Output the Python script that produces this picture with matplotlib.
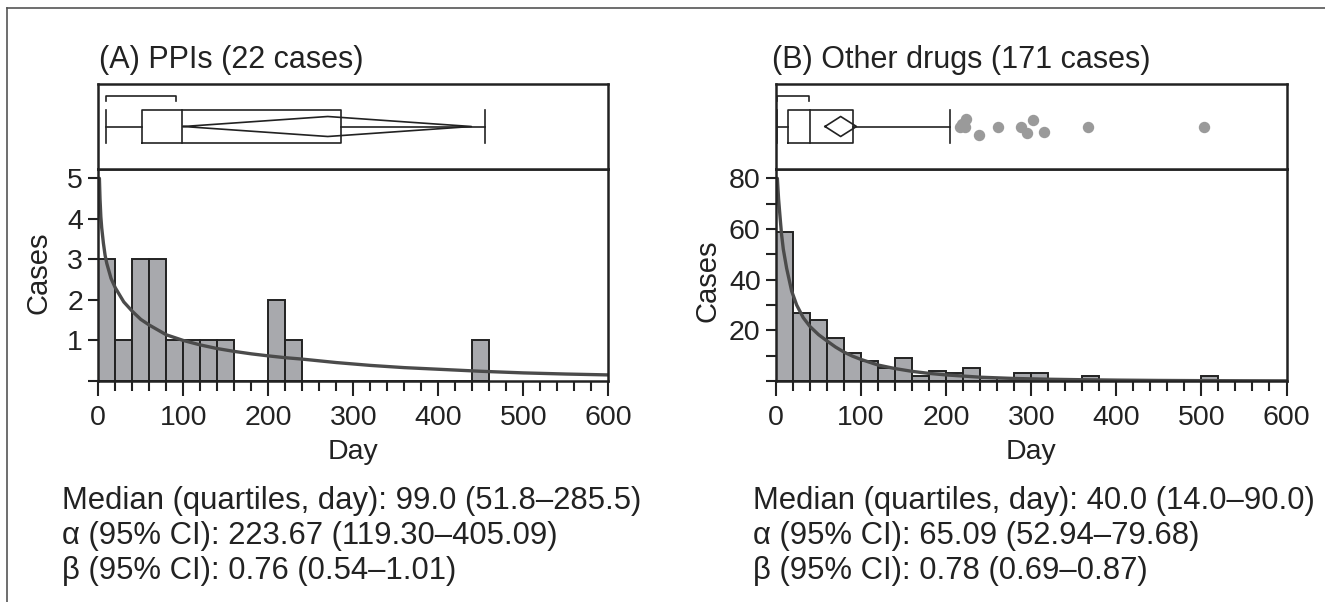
import matplotlib
matplotlib.use("Agg")
import matplotlib.pyplot as plt
from matplotlib.lines import Line2D
from matplotlib.ticker import FixedLocator, FixedFormatter, MultipleLocator

plt.rcParams['font.family'] = ['Liberation Sans', 'DejaVu Sans']

# ---------------- data ----------------
bin_width = 20
ppi_counts = [3, 1, 3, 3, 1, 1, 1, 1, 0, 0, 2, 1, 0, 0, 0, 0, 0, 0, 0, 0, 0, 0, 1]
other_counts = [59, 27, 24, 17, 11, 8, 5, 9, 2, 4, 3, 5, 1, 1, 3, 3, 0, 0, 2, 0,
                0, 0, 0, 0, 0, 2]

ppi_curve_day = [1.3, 2, 3, 4, 6, 8, 10, 15, 20, 30, 40, 50, 60, 80, 100, 120,
                 140, 160, 180, 200, 220, 240, 280, 320, 360, 400, 450, 500, 550, 600]
ppi_curve_val = [5.0, 4.5, 4.05, 3.78, 3.4, 3.1, 2.9, 2.53, 2.3, 1.95, 1.72, 1.52,
                 1.38, 1.14, 1.0, 0.89, 0.80, 0.73, 0.67, 0.62, 0.575, 0.54, 0.455,
                 0.385, 0.33, 0.29, 0.24, 0.2, 0.172, 0.15]
other_curve_day = [1.6, 3, 4.7, 6.5, 8.6, 12.5, 18.4, 24.3, 32, 40, 50, 60, 70, 80,
                   90, 100, 120, 140, 160, 180, 200, 240, 280, 320, 360, 400, 450,
                   500, 550, 600]
other_curve_val = [80, 72, 65, 58, 52, 44.5, 35.5, 30, 25, 21.5, 18.3, 15.8, 13.4,
                   11.4, 9.8, 8.5, 6.3, 4.9, 3.8, 3.0, 2.4, 1.5, 1.0, 0.7, 0.5, 0.35,
                   0.22, 0.14, 0.09, 0.06]

ppi_whisker = [9, 455]
ppi_quartiles = [51.8, 99.0, 285.5]
ppi_mean_ci = [100, 270, 439]
ppi_short_half = [9, 92]
ppi_outliers = []
ppi_outlier_dy = []

other_whisker = [1, 204]
other_quartiles = [14.0, 40.0, 90.0]
other_mean_ci = [57.6, 76, 94.6]
other_short_half = [1, 39]
other_outliers = [215.8, 219, 222.7, 223.8, 238.2, 261.2, 287.6, 294.6, 301.5,
                  314.6, 366.9, 503.6]
other_outlier_dy = [0, 3, 0, 7.5, -8.5, 0, 0, -6.3, 6.7, -5.7, 0, 0]

titles = ["(A) PPIs (22 cases)", "(B) Other drugs (171 cases)"]
stats = [["Median (quartiles, day): 99.0 (51.8\u2013285.5)",
          "\u03b1 (95% CI): 223.67 (119.30\u2013405.09)",
          "\u03b2 (95% CI): 0.76 (0.54\u20131.01)"],
         ["Median (quartiles, day): 40.0 (14.0\u201390.0)",
          "\u03b1 (95% CI): 65.09 (52.94\u201379.68)",
          "\u03b2 (95% CI): 0.78 (0.69\u20130.87)"]]
x_ticks = [0, 100, 200, 300, 400, 500, 600]
ppi_yticks = [0, 1, 2, 3, 4, 5]
ppi_ylabels = ["", "1", "2", "3", "4", "5"]
other_yticks = [0, 20, 40, 60, 80]
other_ylabels = ["", "20", "40", "60", "80"]
other_yminor = [10, 30, 50, 70]

# ---------------- figure ----------------
W, H = 1325, 602
fig = plt.figure(figsize=(W / 100, H / 100), dpi=100)

DARK = '#222222'
BAR = '#a8a9ad'
CURVE = '#4b4b4b'
SPINE_LW = 1.8


def fx(px):
    return px / W


def fy(py):
    return 1 - py / H


panels = [
    dict(x0=98.3, x1=608.2, counts=ppi_counts, cd=ppi_curve_day, cv=ppi_curve_val,
         ytop=5.23, yt=ppi_yticks, yl=ppi_ylabels, ymin=None,
         wh=ppi_whisker, q=ppi_quartiles, mci=ppi_mean_ci, sh=ppi_short_half,
         out=ppi_outliers, outdy=ppi_outlier_dy, title=titles[0], tx=99,
         stats=stats[0], sx=62, cases=(38.8, 273), day_x=353),
    dict(x0=776, x1=1286.5, counts=other_counts, cd=other_curve_day, cv=other_curve_val,
         ytop=83.7, yt=other_yticks, yl=other_ylabels, ymin=other_yminor,
         wh=other_whisker, q=other_quartiles, mci=other_mean_ci, sh=other_short_half,
         out=other_outliers, outdy=other_outlier_dy, title=titles[1], tx=771.5,
         stats=stats[1], sx=753, cases=(707.7, 281), day_x=1031),
]

for p in panels:
    left = fx(p['x0'])
    width = fx(p['x1']) - fx(p['x0'])
    # histogram axes
    ah = fig.add_axes([left, fy(381), width, (381 - 169) / H])
    edges = [i * bin_width for i in range(len(p['counts']))]
    ah.bar(edges, p['counts'], width=bin_width, align='edge', color=BAR,
           edgecolor=DARK, linewidth=1.4, zorder=2)
    ah.plot(p['cd'], p['cv'], color=CURVE, lw=2.4, zorder=3,
            solid_capstyle='round', solid_joinstyle='round')
    ah.set_xlim(0, 600)
    ah.set_ylim(0, p['ytop'])
    for s in ah.spines.values():
        s.set_linewidth(SPINE_LW)
        s.set_color(DARK)
        s.set_zorder(4)
    ah.xaxis.set_major_locator(FixedLocator(x_ticks))
    ah.xaxis.set_minor_locator(MultipleLocator(20))
    ah.yaxis.set_major_locator(FixedLocator(p['yt']))
    ah.yaxis.set_major_formatter(FixedFormatter(p['yl']))
    if p['ymin'] is not None:
        ah.yaxis.set_minor_locator(FixedLocator(p['ymin']))
    else:
        ah.yaxis.set_minor_locator(FixedLocator([]))
    ah.tick_params(axis='x', which='major', direction='out', length=11, width=1.5,
                   color=DARK, labelsize=20.5, labelcolor=DARK, pad=6)
    ah.tick_params(axis='x', which='minor', direction='out', length=7.5, width=1.5,
                   color=DARK)
    ah.tick_params(axis='y', which='both', direction='out', length=7.5, width=1.5,
                   color=DARK, labelsize=20.5, labelcolor=DARK, pad=3.5)

    # box-plot axes
    ab = fig.add_axes([left, fy(169), width, (169 - 84) / H])
    ab.set_xlim(0, 600)
    ab.set_ylim(0, 85)
    ab.set_xticks([])
    ab.set_yticks([])
    for s in ab.spines.values():
        s.set_linewidth(SPINE_LW)
        s.set_color(DARK)
    yc, yb, yt_ = 42.5, 26, 59
    blw = 1.2
    q1, med, q3 = p['q']
    lo, hi = p['wh']
    ab.plot([q1, q3, q3, q1, q1], [yb, yb, yt_, yt_, yb], color=DARK, lw=blw)
    ab.plot([med, med], [yb, yt_], color=DARK, lw=blw)
    ab.plot([lo, q1], [yc, yc], color=DARK, lw=blw)
    ab.plot([q3, hi], [yc, yc], color=DARK, lw=blw)
    ab.plot([lo, lo], [yb, yt_], color=DARK, lw=blw)
    ab.plot([hi, hi], [yb, yt_], color=DARK, lw=blw)
    c_lo, mean, c_hi = p['mci']
    ab.plot([c_lo, mean, c_hi, mean, c_lo], [yc, yc + 10, yc, yc - 10, yc],
            color=DARK, lw=blw)
    s0, s1 = p['sh']
    ab.plot([s0, s0, s1, s1], [68.5, 73.5, 73.5, 68.5], color=DARK, lw=blw)
    if p['out']:
        ab.plot(p['out'], [yc + d for d in p['outdy']], 'o', color='#9a9a9a',
                ms=7.2, mec='#9a9a9a', zorder=3)

    # texts
    fig.text(fx(p['tx']), fy(68.3), p['title'], fontsize=22, color=DARK,
             ha='left', va='baseline')
    for i, line in enumerate(p['stats']):
        fig.text(fx(p['sx']), fy([508.5, 544, 579][i]), line, fontsize=22.3,
                 color=DARK, ha='left', va='baseline')
    fig.text(fx(p['cases'][0]), fy(p['cases'][1]), "Cases", fontsize=21,
             color=DARK, rotation=90, ha='center', va='center')
    fig.text(fx(p['day_x']), fy(459), "Day", fontsize=20.5, color=DARK,
             ha='center', va='baseline')

# outer frame (top and left edges)
fig.add_artist(Line2D([fx(7.5), 1.0], [fy(8.3), fy(8.3)], color='#555555', lw=1.2))
fig.add_artist(Line2D([fx(7.5), fx(7.5)], [0.0, fy(8.3)], color='#555555', lw=1.2))

fig.savefig("out.png", dpi=100)
